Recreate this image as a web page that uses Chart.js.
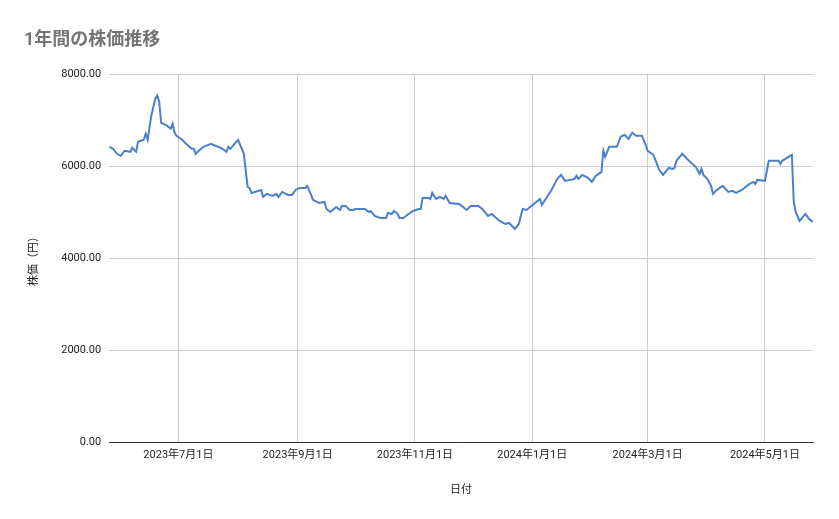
<!DOCTYPE html>
<html><head><meta charset="utf-8">
<script src="https://cdn.jsdelivr.net/npm/chart.js@4"></script>
<style>body{margin:0;background:#fff}#w{width:839px;height:519px}</style>
</head><body><div id="w"><canvas id="c"></canvas></div>
<script>
const startDate = [2023, 5, 26];
const days = [0,2,4,6,8,11,12,14,15,18,19,20,21,22,24,25,26,27,30,32,33,34,35,38,40,43,44,45,46,49,53,54,58,59,61,62,63,67,69,70,72,73,74,79,80,82,85,87,88,90,93,95,97,99,102,103,105,106,109,112,113,115,118,120,121,123,125,127,128,131,133,135,136,138,141,144,145,147,148,150,151,153,155,158,161,162,163,166,167,168,170,172,174,175,177,182,186,188,192,194,197,199,203,206,208,211,213,215,217,224,225,230,233,235,237,242,243,244,246,249,251,253,256,257,258,260,264,266,268,270,272,274,277,279,280,283,286,288,291,293,294,295,298,302,305,307,308,309,311,313,314,316,319,322,324,326,329,333,335,336,337,341,343,345,348,349,350,355,356,357,359,362,364,366];
const prices = [6431,6388,6278,6235,6344,6322,6409,6322,6540,6583,6714,6583,6871,7128,7477,7542,7411,6954,6889,6823,6932,6736,6670,6583,6496,6387,6387,6278,6322,6431,6496,6475,6409,6387,6322,6431,6387,6583,6387,6278,5559,5537,5428,5493,5341,5406,5363,5406,5341,5450,5385,5385,5493,5537,5537,5580,5385,5276,5210,5232,5079,5014,5123,5058,5145,5145,5058,5058,5079,5079,5079,5014,5036,4927,4883,4883,4992,4970,5036,4970,4883,4883,4948,5036,5079,5079,5319,5319,5297,5428,5297,5341,5297,5363,5210,5188,5058,5145,5145,5079,4927,4970,4818,4753,4775,4644,4753,5079,5058,5297,5166,5493,5733,5820,5690,5733,5798,5733,5820,5755,5668,5798,5886,6344,6213,6431,6431,6649,6692,6605,6736,6670,6670,6475,6344,6257,5930,5820,5973,5951,5973,6126,6278,6104,5995,5842,5951,5820,5733,5580,5406,5493,5580,5450,5472,5428,5493,5624,5668,5624,5711,5690,6126,6126,6126,6061,6126,6257,5232,5014,4818,4970,4862,4796];
const tickDays = [36,98,159,220,280,341];
const tickLabels = ['2023年7月1日','2023年9月1日','2023年11月1日','2024年1月1日','2024年3月1日','2024年5月1日'];
const yTicks = [0,2000,4000,6000,8000];
const F = "Roboto, 'Noto Sans CJK JP', sans-serif";
new Chart(document.getElementById('c'), {
  type:'line',
  data:{datasets:[{data:days.map((d,i)=>({x:d,y:prices[i]})),borderColor:'#4a7fcb',borderWidth:2,pointRadius:0,tension:0}]},
  options:{responsive:true,maintainAspectRatio:false,animation:false,
    layout:{padding:{left:24,right:26,top:10,bottom:18}},
    plugins:{legend:{display:false},tooltip:{enabled:false},
      title:{display:true,text:'1年間の株価推移',align:'start',color:'#757575',font:{family:F,size:18},padding:{top:20,bottom:23}}},
    scales:{
      x:{type:'linear',min:0,max:366,
        afterBuildTicks:a=>{a.ticks=tickDays.map(v=>({value:v}));},
        ticks:{callback:(v)=>tickLabels[tickDays.indexOf(v)],color:'#222',font:{family:F,size:11},maxRotation:0,autoSkip:false,padding:6},
        grid:{color:'#cccccc',drawTicks:false},border:{color:'#333'},
        title:{display:true,text:'日付',color:'#222',font:{family:F,size:11},padding:{top:16}}},
      y:{min:0,max:8000,
        afterBuildTicks:a=>{a.ticks=yTicks.map(v=>({value:v}));},
        ticks:{callback:v=>v.toFixed(2),color:'#222',font:{family:F,size:11},padding:8},
        grid:{color:'#cccccc',drawTicks:false},border:{display:false},
        title:{display:true,text:'株価（円）',color:'#222',font:{family:F,size:11},padding:{bottom:12}}}
    }}
});
</script></body></html>
